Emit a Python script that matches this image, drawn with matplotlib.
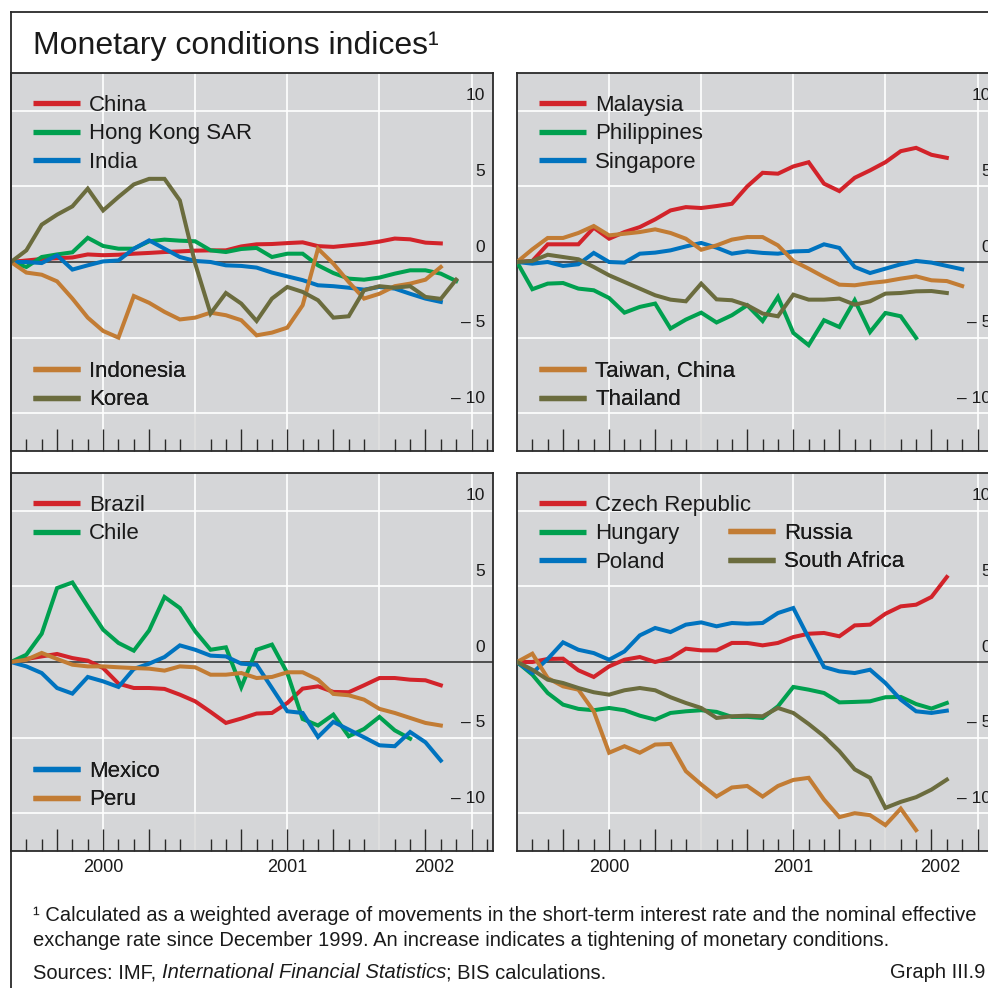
import numpy as np
import matplotlib
matplotlib.use("Agg")
import matplotlib.pyplot as plt
from matplotlib.lines import Line2D
import matplotlib.transforms as mtransforms

plt.rcParams['font.family'] = ['Liberation Sans', 'DejaVu Sans']

# monthly index values since December 1999 (month 0)
china = [0, 0.1, 0.2, 0.25, 0.3, 0.5, 0.45, 0.48, 0.55, 0.6, 0.66, 0.7, 0.75, 0.77, 0.77,
         1.03, 1.17, 1.19, 1.25, 1.3, 1.05, 1.0, 1.1, 1.2, 1.35, 1.55, 1.5, 1.28, 1.23]
hong_kong = [0, -0.33, 0.33, 0.5, 0.64, 1.6, 1.06, 0.88, 0.88, 1.37, 1.48, 1.41, 1.37, 0.77,
             0.66, 0.86, 0.93, 0.33, 0.55, 0.55, -0.22, -0.73, -1.1, -1.17, -1.03, -0.77,
             -0.55, -0.55, -0.77, -1.26]
india = [0, 0, -0.07, 0.44, -0.5, -0.22, 0.04, 0.1, 0.88, 1.43, 0.88, 0.33, 0.07, 0, -0.22,
         -0.26, -0.37, -0.7, -0.95, -1.2, -1.54, -1.6, -1.7, -1.83, -1.65, -1.76, -2.1,
         -2.42, -2.64]
indonesia = [0, -0.7, -0.84, -1.28, -2.42, -3.68, -4.56, -5.0, -2.25, -2.7, -3.3, -3.8, -3.68,
             -3.35, -3.52, -3.85, -4.85, -4.67, -4.34, -2.86, 0.88, -0.11, -1.32, -2.42,
             -2.1, -1.6, -1.43, -1.17, -0.33]
korea = [0, 0.77, 2.47, 3.13, 3.68, 4.85, 3.41, 4.3, 5.13, 5.5, 5.5, 4.07, -0.11, -3.41,
         -2.05, -2.75, -3.9, -2.42, -1.65, -1.98, -2.53, -3.68, -3.59, -1.87, -1.6, -1.7,
         -1.6, -2.31, -2.44, -1.17]

malaysia = [0, 0.07, 1.17, 1.17, 1.17, 2.27, 1.54, 1.98, 2.31, 2.82, 3.41, 3.63, 3.57, 3.7,
            3.85, 5.0, 5.9, 5.84, 6.32, 6.6, 5.18, 4.69, 5.57, 6.06, 6.6, 7.33, 7.55, 7.09,
            6.89]
philippines = [0, -1.8, -1.43, -1.39, -1.76, -1.87, -2.38, -3.35, -2.97, -2.75, -4.4, -3.81,
               -3.35, -4.0, -3.52, -2.86, -3.9, -2.31, -4.69, -5.5, -3.85, -4.3, -2.53,
               -4.63, -3.37, -3.59, -5.02]
singapore = [0, -0.11, 0, -0.26, -0.15, 0.6, 0, -0.04, 0.55, 0.62, 0.77, 1.03, 1.26, 0.95,
             0.55, 0.7, 0.6, 0.55, 0.7, 0.73, 1.17, 0.93, -0.33, -0.73, -0.44, -0.15, 0.07,
             -0.04, -0.26, -0.48]
taiwan = [0, 0.84, 1.59, 1.59, 1.92, 2.38, 1.76, 1.87, 1.98, 2.16, 1.92, 1.54, 0.81, 1.1,
          1.48, 1.65, 1.65, 1.1, 0.07, -0.44, -0.99, -1.5, -1.54, -1.39, -1.28, -1.1, -0.95,
          -1.21, -1.26, -1.59]
thailand = [0, 0.07, 0.48, 0.33, 0.18, -0.33, -0.88, -1.32, -1.76, -2.2, -2.49, -2.6, -1.43,
            -2.47, -2.53, -2.86, -3.41, -3.59, -2.16, -2.49, -2.49, -2.42, -2.82, -2.6,
            -2.09, -2.05, -1.94, -1.92, -2.05]

brazil = [0, 0.2, 0.37, 0.53, 0.26, 0.09, -0.4, -1.43, -1.72, -1.72, -1.78, -2.16, -2.6,
          -3.3, -4.03, -3.74, -3.41, -3.37, -2.71, -1.76, -1.61, -1.98, -2.0, -1.54, -1.06,
          -1.06, -1.17, -1.21, -1.54]
chile = [0, 0.48, 1.87, 4.89, 5.26, 3.68, 2.14, 1.26, 0.75, 2.09, 4.3, 3.57, 2.03, 0.81,
         0.97, -1.67, 0.81, 1.15, -0.73, -3.77, -4.2, -3.48, -4.91, -4.43, -3.63, -4.52,
         -5.07]
mexico = [0, -0.29, -0.73, -1.72, -2.09, -0.99, -1.28, -1.65, -0.46, -0.11, 0.33, 1.1, 0.81,
          0.42, 0.37, -0.11, -0.18, -1.72, -3.26, -3.37, -4.96, -3.96, -4.47, -4.98, -5.51,
          -5.57, -4.63, -5.31, -6.52]
peru = [0, 0.15, 0.6, 0.2, -0.18, -0.29, -0.29, -0.35, -0.4, -0.44, -0.57, -0.29, -0.35,
        -0.84, -0.84, -0.73, -1.06, -0.99, -0.68, -0.68, -1.17, -2.11, -2.2, -2.49, -3.1,
        -3.37, -3.7, -4.03, -4.2]

czech = [0, 0, 0.2, 0.22, -0.55, -0.99, -0.29, 0.15, 0.33, 0, 0.26, 0.88, 0.77, 0.77, 1.26,
         1.26, 1.1, 1.26, 1.65, 1.87, 1.92, 1.7, 2.42, 2.47, 3.19, 3.68, 3.79, 4.3, 5.62]
hungary = [0, -0.84, -2.05, -2.82, -3.1, -3.19, -3.04, -3.19, -3.55, -3.81, -3.37, -3.26,
           -3.19, -3.3, -3.63, -3.63, -3.7, -2.93, -1.65, -1.83, -2.05, -2.67, -2.64, -2.6,
           -2.33, -2.31, -2.78, -3.08, -2.71]
poland = [0, -0.73, 0.2, 1.3, 0.81, 0.59, 0.15, 0.7, 1.76, 2.25, 1.98, 2.47, 2.62, 2.36,
          2.58, 2.53, 2.58, 3.24, 3.57, 1.59, -0.33, -0.62, -0.73, -0.51, -1.39, -2.49,
          -3.26, -3.37, -3.22]
russia = [0, 0.55, -1.06, -1.61, -1.83, -3.26, -6.0, -5.57, -6.0, -5.46, -5.42, -7.22, -8.1,
          -8.9, -8.3, -8.2, -8.9, -8.2, -7.8, -7.66, -9.1, -10.26, -10.0, -10.13, -10.79,
          -9.7, -11.12]
south_africa = [0, -0.51, -1.17, -1.39, -1.72, -2.0, -2.16, -1.87, -1.72, -1.87, -2.33, -2.71,
                -3.04, -3.7, -3.59, -3.55, -3.59, -3.04, -3.37, -4.1, -4.91, -5.9, -7.1,
                -7.66, -9.65, -9.25, -8.94, -8.44, -7.78]

years = ['2000', '2001', '2002']
year_label_pos = [6, 18, 27.6]
year_ticks = [12, 24]
quarter_ticks = [3, 6, 9, 15, 18, 21, 27, 30]
month_ticks = [m for m in range(1, 32) if m not in quarter_ticks + year_ticks]
y_ticks = [10, 5, 0, -5, -10]
y_labels = ['10', '5', '0', '– 5', '– 10']

RED = '#d2232a'
GREEN = '#00a04f'
BLUE = '#0073bf'
ORANGE = '#c27c34'
OLIVE = '#6b6c3e'
BG = '#d5d6d8'
DARK = '#2a2a2a'
TXT = '#1a1a1a'

W, H = 988, 988
fig = plt.figure(figsize=(W / 100, H / 100), dpi=100)


def make_ax(x0, y0, labels_bottom):
    # x0, y0: top-left corner in pixels
    w, h = 482, 378
    ax = fig.add_axes([x0 / W, 1 - (y0 + h) / H, w / W, h / H])
    ax.set_facecolor(BG)
    ax.set_xlim(0, 31.4)
    ax.set_ylim(-12.5, 12.5)
    for s in ax.spines.values():
        s.set_color(DARK)
        s.set_linewidth(1.3)
    for g in [6, 12, 18, 24, 30]:
        ax.axvline(g, color='white', lw=1.2, zorder=1)
    for v in [10, 5, -5, -10]:
        ax.axhline(v, color='white', lw=1.2, zorder=1)
    ax.axhline(0, color=DARK, lw=1.1, zorder=2)
    ax.set_yticks([])
    ax.set_xticks(quarter_ticks)
    ax.set_xticks(month_ticks, minor=True)
    ax.tick_params(axis='x', which='major', direction='in', length=15.8, width=1,
                   color=DARK, labelbottom=False)
    ax.tick_params(axis='x', which='minor', direction='in', length=8.6, width=1,
                   color=DARK)
    sec = ax.secondary_xaxis('bottom')
    sec.set_xticks(year_ticks, labels=['', ''])
    sec.tick_params(axis='x', which='major', direction='in', length=27.4, width=1.3,
                    color=DARK)
    if labels_bottom:
        sec.set_xticks(year_label_pos, labels=years, minor=True)
        sec.tick_params(axis='x', which='minor', length=0, pad=6, labelsize=13,
                        labelcolor=TXT)
    for s in sec.spines.values():
        s.set_visible(False)
    trans = mtransforms.blended_transform_factory(ax.transAxes, ax.transData)
    for v, lab in zip(y_ticks, y_labels):
        ax.annotate(lab, xy=(1, v), xycoords=trans, xytext=(-5.8, 7.5),
                    textcoords='offset points', ha='right', va='baseline',
                    fontsize=12.5, color=TXT, annotation_clip=False)
    return ax


def plot_series(ax, series):
    handles = []
    for vals, color, name in series:
        ln, = ax.plot(np.arange(len(vals)), vals, color=color, lw=2.9, label=name,
                      zorder=3, solid_joinstyle='miter')
        handles.append(ln)
    return handles


def add_legend(ax, handles, x, y_top):
    leg = ax.legend(handles=handles, loc='upper left', bbox_to_anchor=(x, y_top),
                    frameon=False, fontsize=16, handlelength=2.1, handletextpad=0.42,
                    labelspacing=0.33, borderpad=0, borderaxespad=0)
    for t in leg.get_texts():
        t.set_color(TXT)
    for l in leg.get_lines():
        l.set_linewidth(3.8)
        l.set_solid_capstyle('butt')
    ax.add_artist(leg)
    return leg


leg_x = 22 / 482
top_y = 1 - 22 / 378
low_y = 1 - 288 / 378
row = 28 / 378

ax1 = make_ax(11, 73, False)
h = plot_series(ax1, [(china, RED, 'China'), (hong_kong, GREEN, 'Hong Kong SAR'),
                      (india, BLUE, 'India'), (indonesia, ORANGE, 'Indonesia'),
                      (korea, OLIVE, 'Korea')])
add_legend(ax1, h[:3], leg_x, top_y)
add_legend(ax1, h[3:], leg_x, low_y)

ax2 = make_ax(517, 73, False)
h = plot_series(ax2, [(malaysia, RED, 'Malaysia'), (philippines, GREEN, 'Philippines'),
                      (singapore, BLUE, 'Singapore'), (taiwan, ORANGE, 'Taiwan, China'),
                      (thailand, OLIVE, 'Thailand')])
add_legend(ax2, h[:3], leg_x, top_y)
add_legend(ax2, h[3:], leg_x, low_y)

ax3 = make_ax(11, 473, True)
h = plot_series(ax3, [(brazil, RED, 'Brazil'), (chile, GREEN, 'Chile'),
                      (mexico, BLUE, 'Mexico'), (peru, ORANGE, 'Peru')])
add_legend(ax3, h[:2], leg_x, top_y)
add_legend(ax3, h[2:], leg_x, low_y)

ax4 = make_ax(517, 473, True)
h = plot_series(ax4, [(czech, RED, 'Czech Republic'), (hungary, GREEN, 'Hungary'),
                      (poland, BLUE, 'Poland'), (russia, ORANGE, 'Russia'),
                      (south_africa, OLIVE, 'South Africa')])
add_legend(ax4, h[:3], leg_x, top_y)
add_legend(ax4, h[3:], 211 / 482, top_y - row)

# outer frame
fig.add_artist(Line2D([11 / W, 1], [1 - 12 / H, 1 - 12 / H], color=DARK, lw=1.3))
fig.add_artist(Line2D([11 / W, 11 / W], [0, 1 - 12 / H], color=DARK, lw=1.3))

fig.text(33 / W, 1 - 54 / H, 'Monetary conditions indices¹', fontsize=23,
         color=TXT, va='baseline', ha='left')

fs = 14.5
fig.text(33 / W, 1 - 921 / H,
         '¹ Calculated as a weighted average of movements in the short-term interest rate '
         'and the nominal effective', fontsize=fs, va='baseline', color=TXT)
fig.text(33 / W, 1 - 946 / H,
         'exchange rate since December 1999. An increase indicates a tightening of '
         'monetary conditions.', fontsize=fs, va='baseline', color=TXT)
src = fig.text(33 / W, 1 - 978 / H, 'Sources: IMF, ', fontsize=fs,
               va='baseline', color=TXT)
fig.canvas.draw()
r = fig.canvas.get_renderer()
bb = src.get_window_extent(r)
src2 = fig.text(bb.x1 / W, 1 - 978 / H, 'International Financial Statistics',
                fontsize=fs, style='italic', va='baseline', color=TXT)
bb2 = src2.get_window_extent(r)
fig.text(bb2.x1 / W, 1 - 978 / H, '; BIS calculations.', fontsize=fs,
         va='baseline', color=TXT)
fig.text(985 / W, 1 - 978 / H, 'Graph III.9', fontsize=fs,
         va='baseline', ha='right', color=TXT)

fig.savefig('out.png', dpi=100)
